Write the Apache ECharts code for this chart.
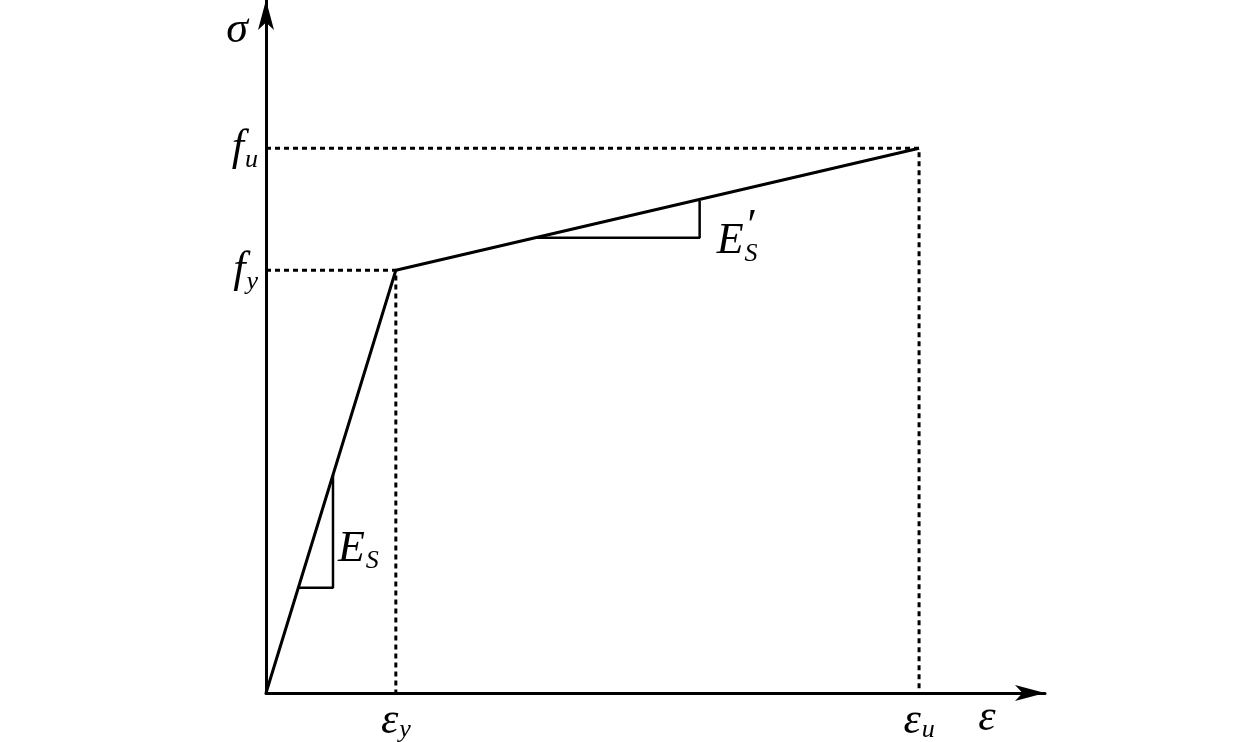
<!DOCTYPE html>
<html>
<head>
<meta charset="utf-8">
<script src="https://cdn.jsdelivr.net/npm/echarts@6/dist/echarts.min.js"></script>
<style>
  html, body { margin: 0; padding: 0; background: #fff; }
  #main { width: 1259px; height: 742px; }
</style>
</head>
<body>
<div id="main"></div>
<script>
// 双折线本构模型
let epsY = 1.0, epsU = 5.03;   // 屈服应变、极限应变
let fy = 6.1, fu = 7.86;       // 屈服强度、极限强度

let curve = [[0, 0], [epsY, fy], [epsU, fu]];
let yieldGuide = [[0, fy], [epsY, fy], [epsY, 0]];
let ultGuide = [[0, fu], [epsU, fu], [epsU, 0]];
// 斜率小三角
let triEs = [[0.25, 1.52], [0.516, 1.52], [0.516, 3.15]];
let triEs2 = [[2.08, 6.57], [3.34, 6.57], [3.34, 7.1]];

let font = 'Liberation Serif';
let rich = {
  i: { fontFamily: font, fontStyle: 'italic', fontSize: 44, color: '#000' },
  s: { fontFamily: font, fontStyle: 'italic', fontSize: 26, color: '#000', padding: [24, 0, 0, 1] },
  e: { fontFamily: font, fontStyle: 'italic', fontSize: 44, color: '#000', lineHeight: 34 },
  xs: { fontFamily: font, fontStyle: 'italic', fontSize: 26, color: '#000', padding: [18, 0, 0, 1] }
};

let chart = echarts.init(document.getElementById('main'));
chart.setOption({
  animation: false,
  backgroundColor: '#fff',
  grid: { left: 266, top: 0, right: 214, bottom: 49, outerBoundsMode: 'none', containLabel: false },
  xAxis: {
    type: 'value', min: 0, max: 6,
    name: 'ε', nameLocation: 'end', nameGap: -58,
    nameTextStyle: { fontFamily: font, fontStyle: 'italic', fontSize: 44, color: '#000', align: 'center', verticalAlign: 'top', padding: [3, 0, 0, 0] },
    axisLine: { lineStyle: { color: '#000', width: 3 }, symbol: ['none', 'arrow'], symbolSize: [12, 30] },
    axisTick: { show: false },
    splitLine: { show: false },
    axisLabel: {
      customValues: [epsY, epsU], margin: 6,
      formatter: function (v) { return v < 2 ? '{e|ε}{xs|y}' : '{e|ε}{xs|u}'; },
      rich: rich
    }
  },
  yAxis: {
    type: 'value', min: 0, max: 10,
    name: 'σ', nameLocation: 'end', nameGap: -30,
    nameTextStyle: { fontFamily: font, fontStyle: 'italic', fontSize: 44, color: '#000', align: 'right', verticalAlign: 'middle', padding: [0, 18, 0, 0] },
    axisLine: { lineStyle: { color: '#000', width: 3 }, symbol: ['none', 'arrow'], symbolSize: [12, 30] },
    axisTick: { show: false },
    splitLine: { show: false },
    axisLabel: {
      customValues: [fy, fu], margin: 8,
      formatter: function (v) { return v < 7 ? '{i|f}{s|y}' : '{i|f}{s|u}'; },
      rich: rich
    }
  },
  series: [
    {
      type: 'line', data: curve, symbol: 'none',
      lineStyle: { color: '#000', width: 3 }
    },
    {
      type: 'line', data: yieldGuide, symbol: 'none',
      lineStyle: { color: '#000', width: 3, type: [5, 4] }
    },
    {
      type: 'line', data: ultGuide, symbol: 'none',
      lineStyle: { color: '#000', width: 3, type: [5, 4] }
    },
    {
      type: 'line', symbol: 'circle', symbolSize: 0, showSymbol: true,
      lineStyle: { color: '#000', width: 2.5 },
      itemStyle: { color: 'transparent' },
      data: [
        triEs[0],
        { value: triEs[1], label: { show: true, position: 'right', offset: [0, -38], formatter: '{i|E}{s|S}', rich: rich } },
        triEs[2]
      ]
    },
    {
      type: 'line', symbol: 'circle', symbolSize: 0, showSymbol: true,
      lineStyle: { color: '#000', width: 2.5 },
      itemStyle: { color: 'transparent' },
      data: [
        triEs2[0],
        { value: triEs2[1], label: { show: true, position: 'right', offset: [12, 4], formatter: '{i|E}{s|S}', rich: rich } },
        { value: triEs2[2], label: { show: true, position: 'right', offset: [40, 26], formatter: '{i|′}', rich: rich } }
      ]
    }
  ]
});
</script>
</body>
</html>
